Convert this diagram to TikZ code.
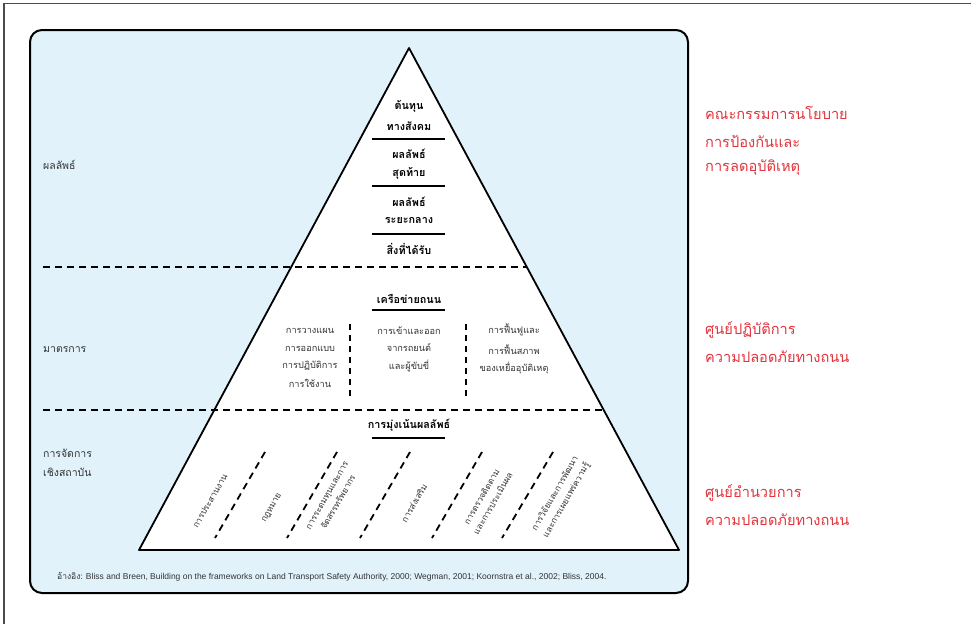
\documentclass[tikz,border=0pt]{standalone}
\usepackage{fontspec}
\setmainfont{Liberation Sans}
\newfontfamily\thai[Script=Thai]{Loma}
\definecolor{bgblue}{HTML}{E1F2FB}
\definecolor{redtxt}{HTML}{E2343C}
\definecolor{graytxt}{HTML}{333333}
\begin{document}
\begin{tikzpicture}[x=1pt,y=-1pt,
  boldlbl/.style={font=\thai\bfseries\fontsize{10.8}{12}\selectfont, inner sep=0pt, text=black},
  plainlbl/.style={font=\thai\fontsize{9.2}{10}\selectfont, inner sep=0pt, text=graytxt},
  sidelbl/.style={font=\thai\fontsize{10.5}{12}\selectfont, inner sep=0pt, text=graytxt, anchor=west},
  redlbl/.style={font=\thai\fontsize{14.6}{16}\selectfont, inner sep=0pt, text=redtxt, anchor=west},
  rotlbl/.style={font=\thai\fontsize{8.6}{13}\selectfont, inner sep=0pt, text=graytxt, rotate=60, align=center},
  dashline/.style={line width=1.8, dash pattern=on 7pt off 5pt},
  sepline/.style={line width=1.8}
]
\useasboundingbox (0,0) rectangle (971,624);
% outer frame
\draw[gray!60!black, line width=1.5] (4,624) -- (4,3.5) -- (971,3.5);
% rounded panel
\draw[rounded corners=12, fill=bgblue, line width=2] (30,30) rectangle (688,593);
% pyramid
\coordinate (apex) at (409,48);
\coordinate (bl) at (139,550);
\coordinate (br) at (679,550);
\draw[fill=white, line width=1.8, line join=round] (apex) -- (bl) -- (br) -- cycle;
% horizontal dashed separators
\coordinate (d1a) at (43,267); \coordinate (d1b) at (527,267);
\coordinate (d2a) at (43,410); \coordinate (d2b) at (605,410);
\draw[dashline] (d1a) -- (d1b);
\draw[dashline] (d2a) -- (d2b);
% top section
\node[boldlbl] (t1a) at (409,106) {ต้นทุน};
\node[boldlbl] (t1b) at (409,126) {ทางสังคม};
\coordinate (s1a) at (372,139); \coordinate (s1b) at (445,139);
\draw[sepline] (s1a) -- (s1b);
\node[boldlbl] (t2a) at (409,154) {ผลลัพธ์};
\node[boldlbl] (t2b) at (409,173) {สุดท้าย};
\coordinate (s2a) at (372,186); \coordinate (s2b) at (445,186);
\draw[sepline] (s2a) -- (s2b);
\node[boldlbl] (t3a) at (409,202) {ผลลัพธ์};
\node[boldlbl] (t3b) at (409,220) {ระยะกลาง};
\coordinate (s3a) at (372,234); \coordinate (s3b) at (445,234);
\draw[sepline] (s3a) -- (s3b);
\node[boldlbl] (t4) at (409,249) {สิ่งที่ได้รับ};
% middle section
\node[boldlbl] (m0) at (409,299) {เครือข่ายถนน};
\coordinate (u1a) at (372,310); \coordinate (u1b) at (445,310);
\draw[sepline] (u1a) -- (u1b);
\node[plainlbl, align=center] (mL) at (310,358) {การวางแผน\\[7.5pt]การออกแบบ\\[7.5pt]การปฏิบัติการ\\[7.5pt]การใช้งาน};
\node[plainlbl, align=center] (mC) at (409,349) {การเข้าและออก\\[7.5pt]จากรถยนต์\\[7.5pt]และผู้ขับขี่};
\node[plainlbl, align=center] (mR) at (514,349) {การฟื้นฟูและ\\[7.5pt]การฟื้นสภาพ\\[7.5pt]ของเหยื่ออุบัติเหตุ};
\coordinate (v1a) at (350,324); \coordinate (v1b) at (350,396);
\coordinate (v2a) at (466,324); \coordinate (v2b) at (466,396);
\draw[line width=1.8, dash pattern=on 6pt off 5pt] (v1a) -- (v1b);
\draw[line width=1.8, dash pattern=on 6pt off 5pt] (v2a) -- (v2b);
% bottom section
\node[boldlbl] (b0) at (409,425) {การมุ่งเน้นผลลัพธ์};
\coordinate (u2a) at (372,438); \coordinate (u2b) at (445,438);
\draw[sepline] (u2a) -- (u2b);
\foreach \i/\xt/\xb in {1/265/215, 2/337/287, 3/410/360, 4/482/432, 5/553/502}{
  \coordinate (g\i t) at (\xt,452);
  \coordinate (g\i b) at (\xb,538);
  \draw[line width=1.8, dash pattern=on 7pt off 5pt] (g\i t) -- (g\i b);
}
\node[rotlbl] (r1) at (210,501) {การประสานงาน};
\node[rotlbl] (r2) at (272,508) {กฎหมาย};
\node[rotlbl] (r3) at (333,499) {การระดมทุนและการ\\จัดสรรทรัพยากร};
\node[rotlbl] (r4) at (414,503) {การส่งเสริม};
\node[rotlbl] (r5) at (487,500) {การตรวจติดตาม\\และการประเมินผล};
\node[rotlbl] (r6) at (561,497) {การวิจัยและการพัฒนา\\และการเผยแพร่ความรู้};
% left labels
\node[sidelbl] (l1) at (43,165) {ผลลัพธ์};
\node[sidelbl] (l2) at (43,350) {มาตรการ};
\node[sidelbl] (l3a) at (43,453) {การจัดการ};
\node[sidelbl] (l3b) at (43,472) {เชิงสถาบัน};
% right red labels
\node[redlbl] (p1a) at (705,113) {คณะกรรมการนโยบาย};
\node[redlbl] (p1b) at (705,141) {การป้องกันและ};
\node[redlbl] (p1c) at (705,168) {การลดอุบัติเหตุ};
\node[redlbl] (p2a) at (705,330) {ศูนย์ปฏิบัติการ};
\node[redlbl] (p2b) at (705,357) {ความปลอดภัยทางถนน};
\node[redlbl] (p3a) at (705,493) {ศูนย์อำนวยการ};
\node[redlbl] (p3b) at (705,520) {ความปลอดภัยทางถนน};
% footer
\node[anchor=west, inner sep=0pt, text=graytxt, font=\fontsize{8.5}{9}\selectfont] (ref) at (57,577) {{\thai อ้างอิง:} Bliss and Breen, Building on the frameworks on Land Transport Safety Authority, 2000; Wegman, 2001; Koornstra et al., 2002; Bliss, 2004.};
\end{tikzpicture}
\end{document}
